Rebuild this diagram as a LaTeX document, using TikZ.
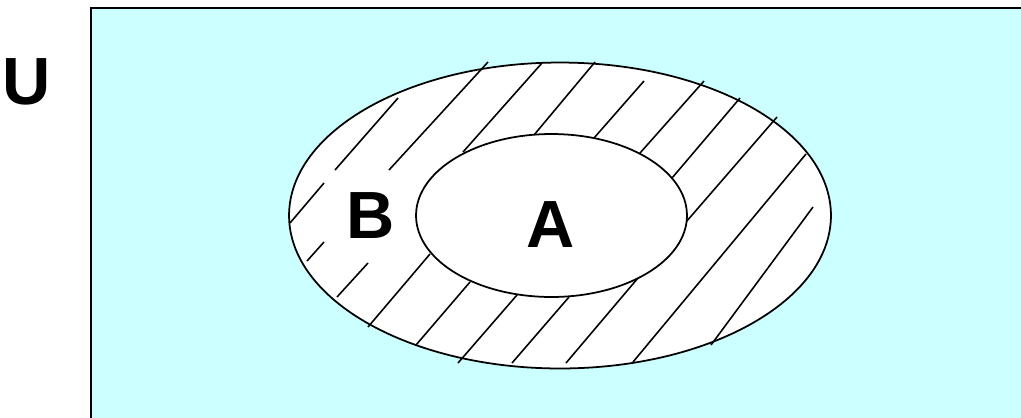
\documentclass[tikz,border=0pt]{standalone}
\usepackage{fontspec}
\setmainfont{Liberation Sans}
\usepackage{tikz}
\definecolor{bgcyan}{HTML}{CCFFFF}

\begin{document}
\begin{tikzpicture}[x=0.02cm,y=-0.02cm,font=\bfseries\fontsize{38}{40}\selectfont]
  \useasboundingbox (0,0) rectangle (1021,417);
  \clip (0,0) rectangle (1021,417);
  \fill[bgcyan] (91,8) rectangle (1040,440);
  \draw[line width=1pt] (91,440) -- (91,8) -- (1040,8);
  \fill[white] (560,215.5) ellipse [x radius=5.42cm, y radius=3.06cm];
  % hatch segments
  \foreach \ax/\ay/\bx/\by in {290/223/324/183, 335/170/398/98, 389/170/488/62,
      463/152/542/63, 534/135/595/62, 594/138/644/81, 640/153/704/81,
      672/178/740/98, 686/222/777/117, 633/362/806/154, 711/345/813/207,
      307/261/324/242, 337/297/368/263, 368/327/430/254, 416/345/470/282,
      458/363/517/295, 512/363/569/297, 566/363/638/278}
    \draw[line width=0.9pt] (\ax,\ay) -- (\bx,\by);
  \draw[line width=1pt,fill=white] (551.5,215.5) ellipse [x radius=2.71cm, y radius=1.63cm];
  \draw[line width=1pt] (560,215.5) ellipse [x radius=5.42cm, y radius=3.06cm];
  \node (ulabel) at (27,82) {U};
  \node (blabel) at (371,216) {B};
  \node (alabel) at (551,225) {A};
\end{tikzpicture}
\end{document}
